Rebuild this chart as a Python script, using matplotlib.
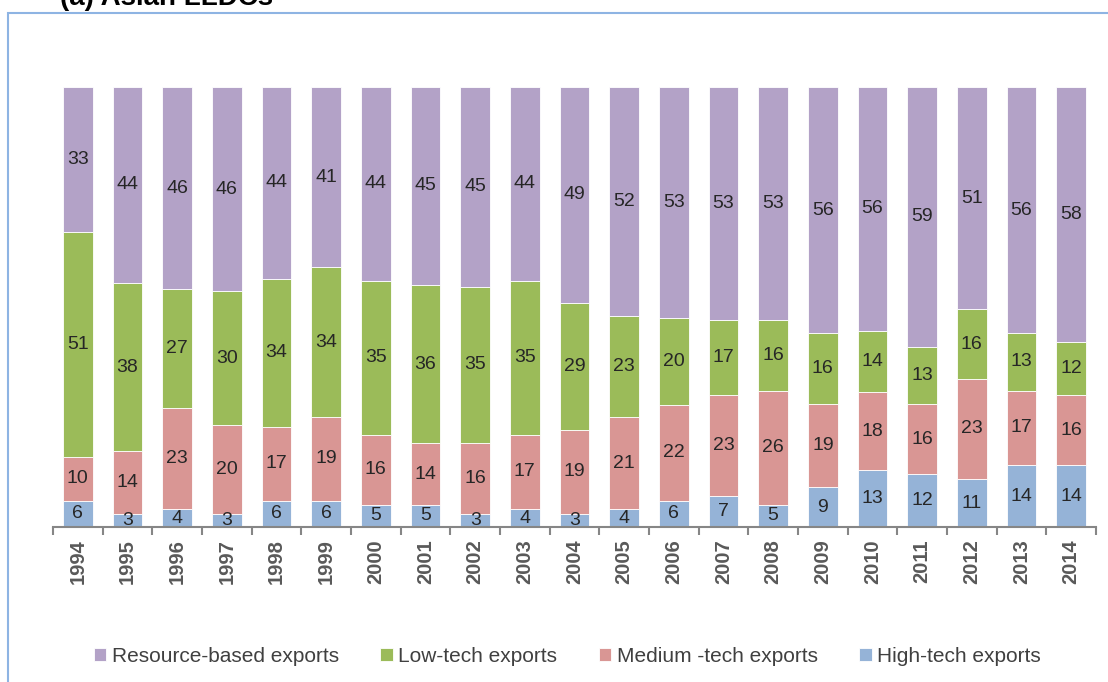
import matplotlib.pyplot as plt
import numpy as np
from matplotlib.patches import Rectangle

plt.rcParams['font.family'] = ['Liberation Sans', 'DejaVu Sans']

years = [str(y) for y in range(1994, 2015)]
high = [6, 3, 4, 3, 6, 6, 5, 5, 3, 4, 3, 4, 6, 7, 5, 9, 13, 12, 11, 14, 14]
medium = [10, 14, 23, 20, 17, 19, 16, 14, 16, 17, 19, 21, 22, 23, 26, 19, 18, 16, 23, 17, 16]
low = [51, 38, 27, 30, 34, 34, 35, 36, 35, 35, 29, 23, 20, 17, 16, 16, 14, 13, 16, 13, 12]
resource = [33, 44, 46, 46, 44, 41, 44, 45, 45, 44, 49, 52, 53, 53, 53, 56, 56, 59, 51, 56, 58]

series = [
    ("High-tech exports", high, "#95B3D7"),
    ("Medium -tech exports", medium, "#D99694"),
    ("Low-tech exports", low, "#9BBB59"),
    ("Resource-based exports", resource, "#B3A2C7"),
]

fig = plt.figure(figsize=(11.08, 6.82), dpi=100)
ax = fig.add_axes([53 / 1108, 1 - 527 / 682, (1096 - 53) / 1108, (527 - 87) / 682])

x = np.arange(len(years))
totals = np.sum([np.array(s[1], dtype=float) for s in series], axis=0)
bottom = np.zeros(len(years))
handles = {}
for name, vals, col in series:
    v = np.array(vals, dtype=float)
    h = v / totals * 100
    bars = ax.bar(x, h, 0.6, bottom=bottom, color=col, edgecolor="white",
                  linewidth=0.6, label=name)
    handles[name] = bars
    for xi, b, hh, lab in zip(x, bottom, h, vals):
        ax.text(xi, b + hh / 2, str(lab), ha="center", va="center",
                fontsize=14, color="#262626")
    bottom += h

ax.set_xlim(-0.5, len(years) - 0.5)
ax.set_ylim(0, 100)
ax.set_yticks([])
for s in ["top", "right", "left"]:
    ax.spines[s].set_visible(False)
ax.spines["bottom"].set_color("#868686")
ax.spines["bottom"].set_linewidth(1.5)

ax.set_xticks(x)
ax.set_xticklabels(years, rotation=90, fontsize=14.5, fontweight="bold",
                   color="#595959")
ax.tick_params(axis="x", which="major", length=0, pad=9)
ax.set_xticks(np.arange(-0.5, len(years), 1), minor=True)
ax.tick_params(axis="x", which="minor", length=6, width=1.5, color="#868686")

order = ["Resource-based exports", "Low-tech exports", "Medium -tech exports", "High-tech exports"]
leg = fig.legend([handles[n] for n in order], order, loc="center",
                 bbox_to_anchor=(0.512, 0.038), ncol=4, frameon=False,
                 fontsize=15, handlelength=0.6, handleheight=0.6,
                 handletextpad=0.25, columnspacing=2.0)
for t in leg.get_texts():
    t.set_color("#404040")

fig.text(60 / 1108, 1 - 5 / 682, "(a) Asian LLDCs", fontsize=20,
         fontweight="bold", ha="left", va="baseline", color="black")

fig.patches.append(Rectangle((8 / 1108, -0.2), 1.5, 0.2 + 1 - 13 / 682,
                             transform=fig.transFigure, fill=False,
                             edgecolor="#8EB4E3", linewidth=1.5))

fig.savefig("out.png", dpi=100)
